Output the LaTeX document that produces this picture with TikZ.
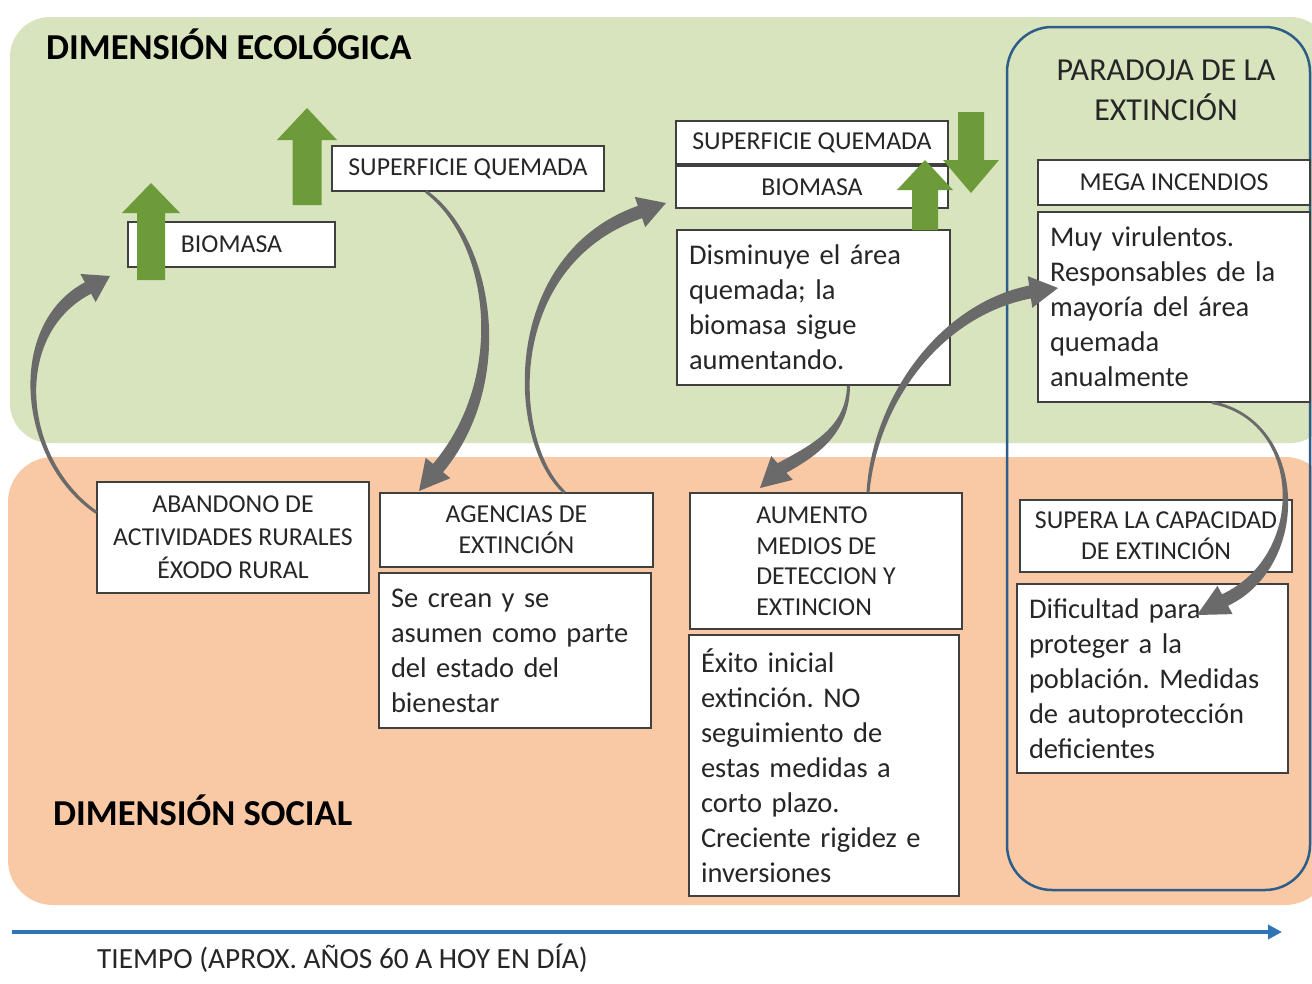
\documentclass[tikz,border=0pt]{standalone}
\usepackage{fontspec}
\setmainfont{Carlito}
\usetikzlibrary{calc,arrows.meta}
\definecolor{pgreen}{HTML}{D7E4BD}
\definecolor{porange}{HTML}{F9C9A5}
\definecolor{agreen}{HTML}{6E9B3A}
\definecolor{agray}{HTML}{6A6A6A}
\definecolor{pblue}{HTML}{2F5D8A}
\definecolor{tblue}{HTML}{2E75B6}
\definecolor{txt}{HTML}{262626}
\definecolor{bline}{HTML}{404040}
\frenchspacing
% tapered grey arrow: start, c1, c2, headbase, tip
\newcommand{\grarrow}[5]{%
  \fill[agray] ($(#1)!1.5pt!90:(#2)$) .. controls ($(#2)!3.5pt!90:(#3)$) and ($(#3)!6pt!90:(#4)$) .. ($(#4)!6.5pt!90:(#5)$)
    -- ($(#4)!16pt!90:(#5)$) -- (#5) -- ($(#4)!16pt!-90:(#5)$) -- ($(#4)!6.5pt!-90:(#5)$)
    .. controls ($(#3)!6pt!-90:(#4)$) and ($(#2)!3.5pt!-90:(#3)$) .. ($(#1)!1.5pt!-90:(#2)$) -- cycle;}
% green block arrow: x, tip, headbase, end, shafthalf, headhalf
\newcommand{\blockarrow}[6]{%
  \fill[agreen] (#1-#5,#4) -- (#1-#5,#3) -- (#1-#6,#3) -- (#1,#2) -- (#1+#6,#3) -- (#1+#5,#3) -- (#1+#5,#4) -- cycle;}
\begin{document}
\begin{tikzpicture}[x=1pt,y=-1pt,
  lbl/.style={draw=bline, line width=1.1pt, fill=white, inner sep=0pt, align=center, text=txt, font=\fontsize{25.8}{31}\selectfont},
  body/.style={draw=bline, line width=1.1pt, fill=white, inner xsep=12pt, inner ysep=0pt, align=left, text=txt, font=\fontsize{28.5}{35}\selectfont},
  paneltitle/.style={font=\bfseries\fontsize{36.5}{42}\selectfont, text=black, inner sep=0pt, anchor=west}]
\useasboundingbox (0,0) rectangle (1312,983);
\fill[white] (0,0) rectangle (1312,983);
% panels
\fill[pgreen, rounded corners=40pt] (10,17) rectangle (1330,443);
\fill[porange, rounded corners=45pt] (8,457) rectangle (1330,905);
\draw[pblue, line width=2.5pt, rounded corners=45pt] (1007,27) rectangle (1310,890);
% titles
\node[paneltitle] (teco) at (46,44) {DIMENSIÓN ECOLÓGICA};
\node[paneltitle] (tsoc) at (53,810) {DIMENSIÓN SOCIAL};
\node[inner sep=0pt, align=center, text=txt, font=\fontsize{32}{40}\selectfont] (tpar) at (1166,90) {PARADOJA DE LA\\EXTINCIÓN};
% boxes
\node[lbl, minimum width=207pt, minimum height=45pt] (bio1) at (231.5,244.5) {BIOMASA};
\node[lbl, minimum width=272pt, minimum height=45pt] (sq1) at (468,168.5) {SUPERFICIE QUEMADA};
\node[lbl, minimum width=272pt, minimum height=43pt] (sq2) at (812,142.5) {SUPERFICIE QUEMADA};
\node[lbl, minimum width=272pt, minimum height=42pt] (bio2) at (812,187) {BIOMASA};
\node[body, text width=249pt, minimum height=155pt] (dism) at (813.5,307.5) {Disminuye el área\\quemada; la\\biomasa sigue\\aumentando.};
\node[lbl, minimum width=272pt, minimum height=45pt] (mega) at (1174,182.5) {MEGA INCENDIOS};
\node[body, text width=248pt, minimum height=190pt] (muy) at (1174,307) {Muy virulentos.\\Responsables de la\\mayoría del área\\quemada\\anualmente};
\node[lbl, minimum width=272pt, minimum height=111pt, font=\fontsize{25.8}{33}\selectfont] (aban) at (233,537.5) {ABANDONO DE\\ACTIVIDADES RURALES\\ÉXODO RURAL};
\node[lbl, minimum width=273pt, minimum height=74pt] (agen) at (516.5,530) {AGENCIAS DE\\EXTINCIÓN};
\node[body, text width=248pt, minimum height=155pt] (secr) at (515,650.5) {Se crean y se\\asumen como parte\\del estado del\\bienestar};
\node[lbl, align=left, minimum width=272pt, minimum height=136pt, font=\fontsize{25.8}{30.5}\selectfont] (aum) at (826,561) {AUMENTO\\MEDIOS DE\\DETECCION Y\\EXTINCION};
\node[body, text width=246pt, minimum height=261pt] (exito) at (824,765.5) {Éxito inicial\\extinción. NO\\seguimiento de\\estas medidas a\\corto plazo.\\Creciente rigidez e\\inversiones};
\node[lbl, minimum width=272pt, minimum height=72pt] (sup) at (1156,536) {SUPERA LA CAPACIDAD\\DE EXTINCIÓN};
\node[body, text width=247pt, minimum height=189pt] (dif) at (1152.5,678.5) {Dificultad para\\proteger a la\\población. Medidas\\de autoprotección\\deficientes};
% grey curved arrows
\coordinate (s1) at ([yshift=25pt]aban.west);
\coordinate (s2) at ([xshift=-42pt]sq1.south);
\coordinate (s3) at ([xshift=48pt]agen.north);
\coordinate (s4) at ([xshift=35pt]dism.south);
\coordinate (s5) at ([xshift=42pt]aum.north);
\coordinate (s6) at ([xshift=38pt]muy.south);
\coordinate (t1) at (110,276);
\coordinate (t2) at (419,491);
\coordinate (t3) at (666,203);
\coordinate (t4) at (760,488);
\coordinate (t5) at (1058,288);
\coordinate (t6) at (1197,615);
\grarrow{s1}{20,460}{8,330}{88,288}{t1}
\grarrow{s2}{492,240}{512,380}{438,468}{t2}
\grarrow{s3}{508,440}{503,260}{640,212}{t3}
\grarrow{s4}{848,430}{815,450}{782,468}{t4}
\grarrow{s5}{875,400}{940,310}{1030,292}{t5}
\grarrow{s6}{1305,420}{1310,560}{1225,600}{t6}
% green block arrows
\blockarrow{151}{183}{213}{280}{14}{29}
\blockarrow{307}{108}{140}{205}{14.5}{30}
\blockarrow{925}{160}{190}{230}{13}{28}
\blockarrow{971}{193}{160}{112}{13}{28}
% time axis
\coordinate (ts) at (12,932);
\coordinate (te) at (1282,932);
\draw[tblue, line width=4pt, -{Triangle[length=14pt,width=14pt]}] (ts) -- (te);
\node[anchor=west, inner sep=0pt, text=txt, font=\fontsize{29.3}{34}\selectfont] (tiempo) at (97,958) {TIEMPO (APROX. AÑOS 60 A HOY EN DÍA)};
\end{tikzpicture}
\end{document}
